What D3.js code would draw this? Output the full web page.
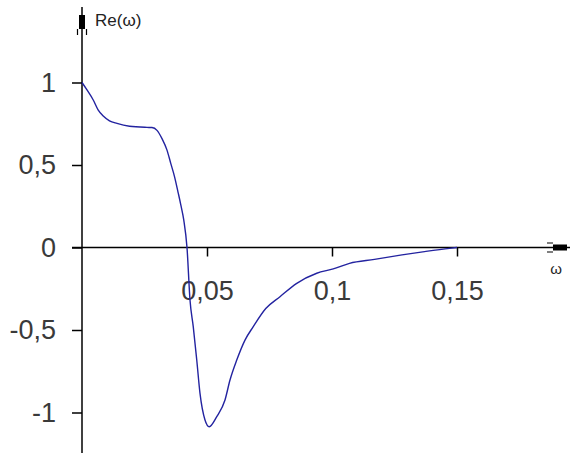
<!DOCTYPE html>
<html>
<head>
<meta charset="utf-8">
<script src="https://cdn.jsdelivr.net/npm/d3@7"></script>
<style>
  body { margin: 0; background: #fff; }
  svg { display: block; }
  text { font-family: "Liberation Sans", Arial, sans-serif; }
</style>
</head>
<body>
<svg width="573" height="453"></svg>
<script>
// frequency values
const omega = [0, 0.002, 0.0045, 0.0065, 0.0085, 0.011, 0.014, 0.019, 0.026, 0.028,
  0.030, 0.032, 0.034, 0.0355, 0.037, 0.0385, 0.0395, 0.0407, 0.042, 0.0432,
  0.0445, 0.0459, 0.0472, 0.0492, 0.0509, 0.0539, 0.0572, 0.0592, 0.0619, 0.0652,
  0.0685, 0.0735, 0.0792, 0.0859, 0.0939, 0.1005, 0.107, 0.117, 0.128, 0.137,
  0.147, 0.15];
// real part Re(w)
const re = [1, 0.955, 0.894, 0.833, 0.797, 0.768, 0.752, 0.735, 0.728, 0.727,
  0.71, 0.66, 0.59, 0.51, 0.43, 0.33, 0.26, 0.167, 0.0, -0.318,
  -0.48, -0.682, -0.884, -1.045, -1.086, -1.025, -0.924, -0.803, -0.682, -0.561,
  -0.48, -0.37, -0.298, -0.217, -0.156, -0.13, -0.096, -0.072, -0.045, -0.025,
  -0.005, 0];

const xTicks = [0.05, 0.1, 0.15];
const yTicks = [-1, -0.5, 0, 0.5, 1];

const svg = d3.select("svg");

// scales: x(0)=82, 0.05 -> 125px ; y(0)=247.5, 1 -> 165px
const x = d3.scaleLinear().domain([0, 0.15]).range([82, 457]);
const y = d3.scaleLinear().domain([-1, 1]).range([412.5, 82.5]);

const fmt = d => String(d).replace(".", ",");

// y axis ticks + labels
const yAxis = svg.append("g")
  .attr("transform", "translate(" + x(0) + ",0)")
  .call(d3.axisLeft(y).tickValues(yTicks).tickSize(10).tickFormat(fmt).tickPadding(16));
yAxis.select(".domain").remove();
yAxis.selectAll("line").attr("stroke", "#000").attr("stroke-width", 1.5);
yAxis.selectAll("text")
  .attr("font-size", 27)
  .attr("fill", "#3a3a3a")
  .attr("font-family", "'Liberation Sans', Arial, sans-serif");

// x axis ticks + labels
const xAxis = svg.append("g")
  .attr("transform", "translate(0," + y(0) + ")")
  .call(d3.axisBottom(x).tickValues(xTicks).tickSize(9).tickFormat(fmt).tickPadding(43));
xAxis.select(".domain").remove();
xAxis.selectAll("line").attr("stroke", "#000").attr("stroke-width", 1.5);
xAxis.selectAll("text")
  .attr("font-size", 27)
  .attr("fill", "#3a3a3a")
  .attr("dy", "0")
  .attr("font-family", "'Liberation Sans', Arial, sans-serif");

// axis lines with arrow heads
const y0 = y(0), x0 = x(0);
svg.append("line")
  .attr("x1", 72).attr("x2", 570).attr("y1", y0).attr("y2", y0)
  .attr("stroke", "#000").attr("stroke-width", 1.5);
svg.append("line")
  .attr("x1", x0).attr("x2", x0).attr("y1", 7).attr("y2", 453)
  .attr("stroke", "#000").attr("stroke-width", 1.5);

// x arrow
svg.append("rect").attr("x", 553).attr("y", y0 - 3).attr("width", 14).attr("height", 6).attr("fill", "#000");
svg.append("path")
  .attr("d", "M547," + (y0 - 4.5) + "H553M547," + (y0 + 4.5) + "H553")
  .attr("stroke", "#000").attr("stroke-width", 1.2);
// y arrow
svg.append("rect").attr("x", x0 - 3).attr("y", 15).attr("width", 6).attr("height", 14).attr("fill", "#000");
svg.append("path")
  .attr("d", "M" + (x0 - 4.5) + ",29V35M" + (x0 + 4.5) + ",29V35")
  .attr("stroke", "#000").attr("stroke-width", 1.2);

// axis titles
svg.append("text")
  .attr("x", 95).attr("y", 26)
  .attr("font-size", 17).attr("fill", "#222")
  .text("Re(ω)");
svg.append("text")
  .attr("x", 556).attr("y", 274)
  .attr("text-anchor", "middle")
  .attr("font-size", 15).attr("fill", "#222")
  .text("ω");

// curve
const pts = omega.map((w, i) => [w, re[i]]);
const line = d3.line()
  .x(d => x(d[0]))
  .y(d => y(d[1]))
  .curve(d3.curveMonotoneX);

svg.append("path")
  .datum(pts)
  .attr("d", line)
  .attr("fill", "none")
  .attr("stroke", "#2323a0")
  .attr("stroke-width", 1.4);
</script>
</body>
</html>
